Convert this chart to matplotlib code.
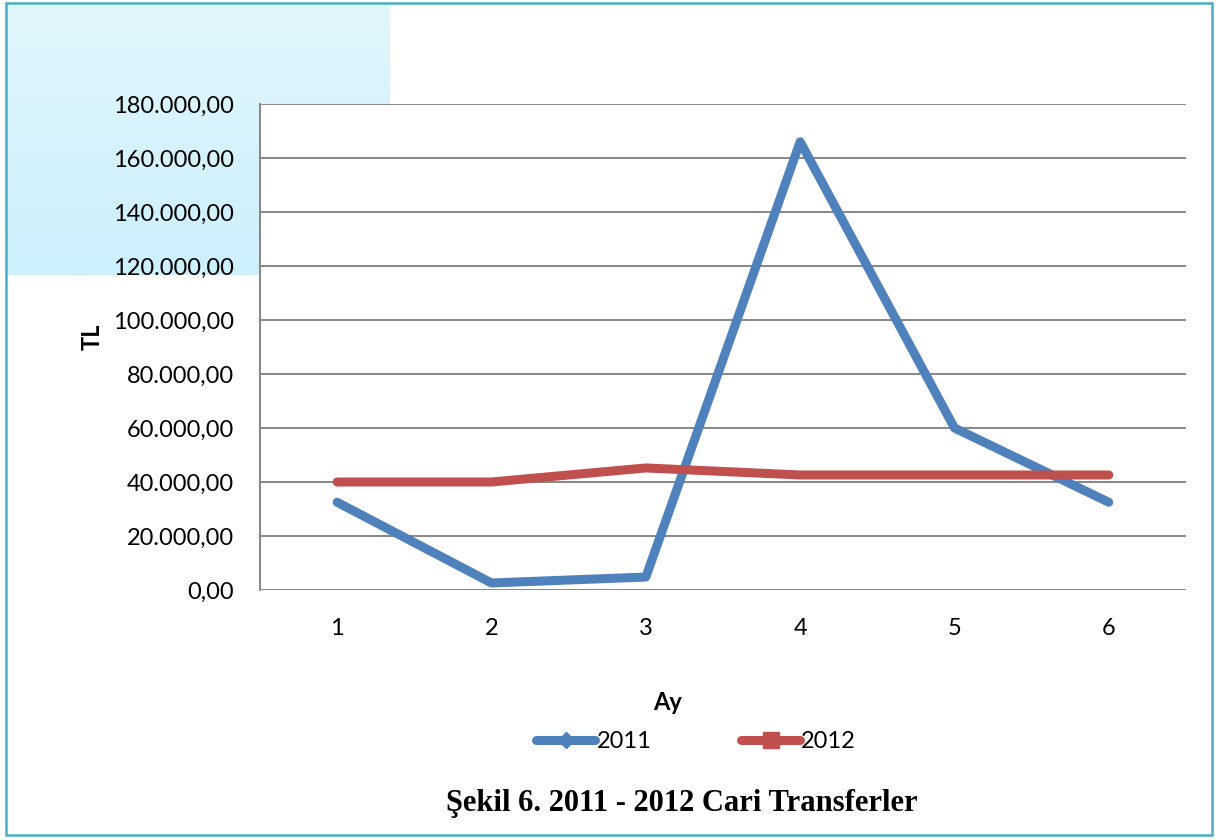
import matplotlib.pyplot as plt
from matplotlib.patches import Rectangle
from matplotlib.lines import Line2D
import numpy as np

# data
months = [1, 2, 3, 4, 5, 6]
tl_2011 = [32500, 2600, 4800, 166000, 60000, 32500]
tl_2012 = [40000, 40000, 45200, 42600, 42600, 42600]
y_ticks = list(range(0, 180001, 20000))

def tr_fmt(v):
    s = f"{v:,.2f}"
    return s.replace(",", "X").replace(".", ",").replace("X", ".")

plt.rcParams['font.family'] = ['Lato', 'DejaVu Sans']

fig = plt.figure(figsize=(12.16, 8.4), dpi=100)

# light blue gradient box at top-left
grad = np.linspace(0, 1, 100).reshape(-1, 1)
bg = fig.add_axes([6 / 1216, 1 - 275 / 840, 384 / 1216, 272 / 840], zorder=0)
c1 = np.array([0xe2, 0xf6, 0xfd]) / 255
c2 = np.array([0xcc, 0xf0, 0xfc]) / 255
img = c1[None, None, :] * (1 - grad[:, :, None]) + c2[None, None, :] * grad[:, :, None]
bg.imshow(img, aspect='auto', extent=[0, 1, 0, 1])
bg.set_axis_off()

# outer border
fig.patches.append(Rectangle((6 / 1216, 5 / 840), 1206 / 1216, 832 / 840,
                             transform=fig.transFigure, fill=False,
                             edgecolor='#4bacc6', linewidth=1.8, zorder=5))

ax = fig.add_axes([260 / 1216, 1 - 590 / 840, 926 / 1216, 486 / 840], zorder=1)
ax.set_facecolor('white')

ax.plot(months, tl_2011, color='#4f81bd', linewidth=6.5, solid_capstyle='round',
        solid_joinstyle='round', label='2011', zorder=3)
ax.plot(months, tl_2012, color='#c0504d', linewidth=6.5, solid_capstyle='round',
        solid_joinstyle='round', label='2012', zorder=3)

ax.set_xlim(0.5, 6.5)
ax.set_ylim(0, 180000)
ax.set_yticks(y_ticks)
ax.set_yticklabels([tr_fmt(v) for v in y_ticks], fontsize=17)
ax.set_xticks(months)
ax.set_xticklabels([str(m) for m in months], fontsize=17)
ax.tick_params(axis='y', length=0, pad=19)
ax.tick_params(axis='x', length=0, pad=20)
ax.grid(axis='y', color='#868686', linewidth=1.4)
ax.set_axisbelow(True)
for side in ['top', 'right', 'bottom']:
    ax.spines[side].set_visible(False)
ax.spines['left'].set_color('#868686')
ax.spines['left'].set_linewidth(1.4)

# axis titles (placed like in the original, not centered on the axes)
fig.text(92 / 1216, 1 - 337 / 840, 'TL', fontsize=17, fontweight='bold',
         rotation=90, ha='center', va='center')
fig.text(668 / 1216, 1 - 703 / 840, 'Ay', fontsize=17, fontweight='bold',
         ha='center', va='center')

# legend with markers shown
h1 = Line2D([], [], color='#4f81bd', linewidth=6.5, marker='D', markersize=8,
            solid_capstyle='round')
h2 = Line2D([], [], color='#c0504d', linewidth=6.5, marker='s', markersize=12,
            solid_capstyle='round')
fig.legend([h1, h2], ['2011', '2012'], loc='center', bbox_to_anchor=(0.5725, 1 - 742 / 840),
           ncol=2, frameon=False, fontsize=17, handlelength=2.5, handletextpad=0.05,
           columnspacing=3.8)

fig.text(0.561, 1 - 803 / 840, 'Şekil 6. 2011 - 2012 Cari Transferler',
         family=['Liberation Serif', 'DejaVu Serif'], fontweight='bold',
         fontsize=22, ha='center', va='center')

fig.savefig('out.png', dpi=100)
